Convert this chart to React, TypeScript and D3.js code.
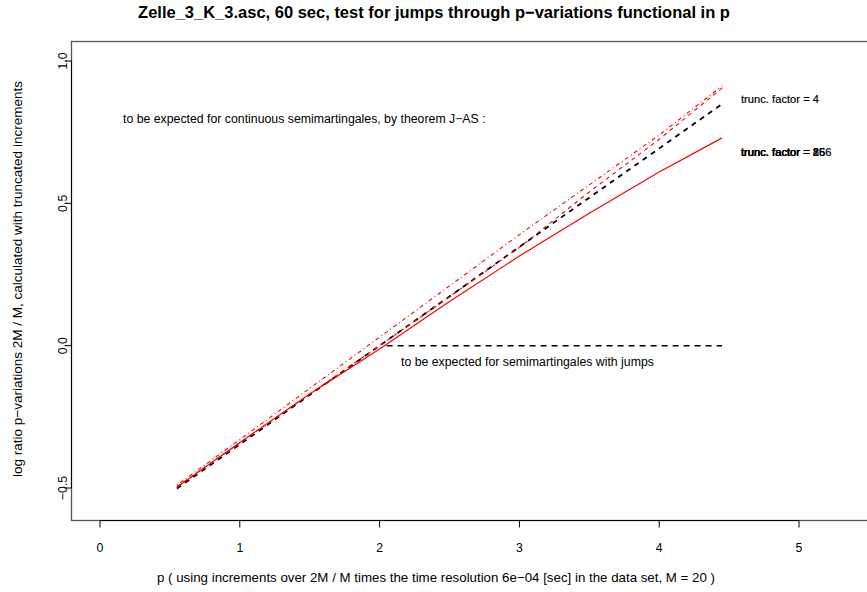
import React from "react";
import * as d3 from "d3";

const pGrid = [0.55, 1, 1.5, 2, 2.5, 3, 3.5, 4, 4.45];
const theoryContinuous = [-0.502, -0.347, -0.173, 0, 0.173, 0.347, 0.52, 0.693, 0.849];
const truncSolid = [-0.497, -0.34, -0.17, -0.012, 0.155, 0.315, 0.465, 0.61, 0.73];
const truncDashed = [-0.495, -0.342, -0.17, 0.0, 0.172, 0.345, 0.54, 0.725, 0.905];
const truncDashDot = [-0.49, -0.33, -0.15, 0.03, 0.21, 0.39, 0.565, 0.74, 0.912];
const jumpsX = [2.05, 4.45];
const jumpsY = [0, 0];
const xTicks = [0, 1, 2, 3, 4, 5];
const yTicks = [-0.5, 0.0, 0.5, 1.0];
const yTickLabels = ["−0.5", "0.0", "0.5", "1.0"];
const truncLabels = [
  { text: "trunc. factor = 4", y: 0.867 },
  { text: "trunc. factor = 8", y: 0.68 },
  { text: "trunc. factor = 16", y: 0.68 },
  { text: "trunc. factor = 256", y: 0.68 },
];

const W = 867;
const H = 592;
const FONT = "'Liberation Sans', Arial, Helvetica, sans-serif";

export default function App() {
  const x = d3.scaleLinear().domain([0, 5]).range([100, 799]);
  const y = d3.scaleLinear().domain([-0.5, 1.0]).range([488, 61]);
  const line = d3
    .line<[number, number]>()
    .x((d) => x(d[0]))
    .y((d) => y(d[1]));
  const mk = (vals: number[], ps: number[] = pGrid) =>
    line(ps.map((p, i) => [p, vals[i]] as [number, number])) || "";

  const boxLeft = 71.5;
  const boxTop = 41.5;
  const boxBottom = 520.5;
  const boxRight = 900;

  return (
    <div style={{ position: "fixed", left: 0, top: 0 }}>
      <svg width={W} height={H} style={{ display: "block", background: "#fff" }} fontFamily={FONT}>
        <rect x={0} y={0} width={W} height={H} fill="#fff" />
        <rect
          x={boxLeft}
          y={boxTop}
          width={boxRight - boxLeft}
          height={boxBottom - boxTop}
          fill="none"
          stroke="#555"
          strokeWidth={1.3}
        />
        <text x={434} y={18} textAnchor="middle" fontSize={16.5} fontWeight="bold" fill="#000">
          Zelle_3_K_3.asc, 60 sec, test for jumps through p−variations functional in p
        </text>
        <line x1={x(0)} x2={x(5)} y1={boxBottom} y2={boxBottom} stroke="#000" strokeWidth={1} />
        {xTicks.map((t) => (
          <g key={"xt" + t}>
            <line x1={x(t)} x2={x(t)} y1={boxBottom} y2={boxBottom + 7} stroke="#000" strokeWidth={1} />
            <text x={x(t)} y={552} textAnchor="middle" fontSize={12.3} fill="#000">
              {t}
            </text>
          </g>
        ))}
        <text x={436} y={582} textAnchor="middle" fontSize={13.3} fill="#000">
          p ( using increments over 2M / M times the time resolution 6e−04 [sec] in the data set, M = 20 )
        </text>
        <line x1={boxLeft} x2={boxLeft} y1={y(-0.5)} y2={y(1.0)} stroke="#000" strokeWidth={1} />
        {yTicks.map((t, i) => (
          <g key={"yt" + t}>
            <line x1={boxLeft} x2={boxLeft - 7} y1={y(t)} y2={y(t)} stroke="#000" strokeWidth={1} />
            <text
              transform={`translate(${67},${y(t)}) rotate(-90)`}
              textAnchor="middle"
              fontSize={12.3}
              fill="#000"
            >
              {yTickLabels[i]}
            </text>
          </g>
        ))}
        <text
          transform={`translate(${22},${279}) rotate(-90)`}
          textAnchor="middle"
          fontSize={13.5}
          fill="#000"
        >
          log ratio p−variations 2M / M, calculated with truncated increments
        </text>
        <path d={mk(theoryContinuous)} fill="none" stroke="#000" strokeWidth={1.8} strokeDasharray="5,5" />
        <path d={mk(jumpsY, jumpsX)} fill="none" stroke="#000" strokeWidth={1.5} strokeDasharray="6,5" />
        <path d={mk(truncSolid)} fill="none" stroke="#ff0000" strokeWidth={1.2} />
        <path d={mk(truncDashed)} fill="none" stroke="#ff0000" strokeWidth={1.1} strokeDasharray="4,4" />
        <path d={mk(truncDashDot)} fill="none" stroke="#ff0000" strokeWidth={1.1} strokeDasharray="1,3,4,3" />
        <text x={123} y={123} fontSize={12.3} fill="#000">
          to be expected for continuous semimartingales, by theorem J−AS :
        </text>
        <text x={401} y={366} fontSize={12.3} fill="#000">
          to be expected for semimartingales with jumps
        </text>
        {truncLabels.map((l, i) => (
          <text
            key={"tl" + i}
            x={741}
            y={y(l.y) + 4}
            fontSize={11.2}
            fill="#000"
            stroke="#000"
            strokeWidth={0.2}
          >
            {l.text}
          </text>
        ))}
      </svg>
    </div>
  );
}
